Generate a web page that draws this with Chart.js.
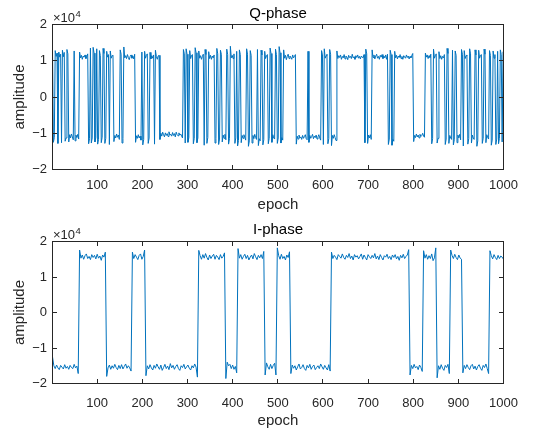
<!DOCTYPE html>
<html><head><meta charset="utf-8">
<script src="https://cdn.jsdelivr.net/npm/chart.js@4.4.0/dist/chart.umd.min.js"></script>
<style>
html,body{margin:0;padding:0;background:#fff;}
#wrap{position:relative;width:544px;height:430px;overflow:hidden;background:#fff;}
canvas{position:absolute;left:0;}
</style></head><body>
<div id="wrap">
<canvas id="cq" width="544" height="215" style="top:0px"></canvas>
<canvas id="ci" width="544" height="215" style="top:215px"></canvas>
</div>
<script>
// ---- data (amplitudes in hundreds, i.e. value*100 = amplitude) ----
const epochStart = 1;
const qStep = 2;   // Q-phase sampled every 2 epochs
const iStep = 3;   // I-phase sampled every 3 epochs
const xTicks = [100,200,300,400,500,600,700,800,900,1000];
const yTicks = [-2,-1,0,1,2];  // in units of 10^4
const titles = ['Q-phase','I-phase'];

const qAmpHundreds = [
132,
-125,-112,
128,112,121,
-128,
124,110,118,
-126,
129,111,123,
-122,-113,
131,119,
-124,-104,-113,-102,-110,-118,
127,
-121,-105,-112,-103,-116,
124,108,115,104,113,110,116,106,112,119,
-129,-115,
135,
-127,-113,
137,121,
-124,-112,
133,
-130,-117,
128,114,
-126,-111,
134,120,
-128,-114,
126,110,117,
-131,
127,107,114,115,
-123,-106,-113,-102,-111,-105,-117,
130,118,
-127,-115,
138,108,114,106,117,109,103,112,116,107,113,105,118,
-125,-107,-114,-104,-113,-108,-119,
124,
-132,-117,
126,107,115,119,
-128,-113,
123,105,114,107,116,
-130,
129,112,104,113,115,
-117,-100,-108,-97,-104,-110,-99,-106,-101,-109,-96,-105,-103,-108,-98,-106,-101,-110,-97,-104,-107,-99,-105,-102,-108,-113,
131,119,
-127,
133,118,
-125,-112,
128,106,115,117,
-129,-114,
136,122,
-126,-113,
127,107,114,104,112,118,
-133,
131,117,
-128,-112,
125,106,115,104,113,108,116,
-127,-114,
134,119,
-131,-116,
129,118,
-124,-105,-114,-103,-118,
132,117,
-130,-115,
140,108,115,106,119,
-128,-113,
126,
-135,-120,
130,117,
-126,-106,-114,-104,-112,-119,
133,118,
-136,-121,
128,115,
-127,-106,-115,-103,-112,-117,
131,
-134,-115,-121,
129,116,
-132,-118,
126,106,114,117,
-129,-114,
135,120,
-125,-104,-113,-116,
132,117,
-128,-113,
139,122,
-127,-112,-119,
130,107,115,103,112,118,106,113,109,104,116,108,112,117,
-130,-108,-116,-105,-113,-110,-117,-106,-114,-109,-104,-115,-118,
126,
-125,-106,-114,-109,-103,-115,-108,-112,-105,-116,-110,-104,-113,-119,
128,116,
-131,
133,107,114,118,
-129,-115,
131,118,
-134,-106,-114,-104,-112,-120,
127,106,114,109,116,104,112,108,117,105,113,110,103,115,109,112,106,118,108,111,104,114,109,116,107,112,105,113,110,108,117,
-126,
132,119,
-128,-105,-113,-104,-117,
130,109,116,105,113,118,107,112,104,115,110,117,106,113,108,116,104,118,
-131,-116,
129,117,
-133,-117,-122,
126,108,115,105,113,109,117,106,112,104,114,110,107,116,109,113,105,112,108,115,120,
-123,-106,-112,-102,-110,-105,-113,-103,-109,-106,-100,-108,-111,
121,110,116,106,114,109,118,
-129,-115,
132,107,114,119,
-127,-114,
125,106,114,104,112,108,117,
-131,-116,
134,120,
-128,-106,-113,-117,
129,
-132,-118,
127,115,
-126,-105,-113,-103,-118,
131,118,
-135,
128,106,114,116,
-130,-115,
133,119,
-127,-105,-113,-117,
130,116,
-136,-121,
129,107,115,117,
-128,-114,
132,118,
-126,-104,-112,-116,
128,115,
-133,-119,
127,107,117,
-131,-116,
126,
-129,-114,
130,117,
-124,
125
];

const iAmpHundreds = [
-125,-150,-158,-148,-156,-161,-149,-154,-159,-147,-157,-152,-160,-149,-155,-158,-146,-156,-151,-172,
176,153,162,150,160,165,152,158,149,163,155,161,151,164,153,159,147,162,156,170,
-180,-156,-148,-160,-150,-157,-146,-155,-161,-149,-158,-147,-159,-152,-145,-157,-150,-156,-165,
170,152,163,156,149,161,165,150,158,176,
-178,-150,-159,-147,-156,-162,-149,-157,-145,-153,-160,-148,-163,-155,-146,-158,-151,-161,-144,-156,-149,-160,-152,-147,-158,-163,-150,-155,-146,-159,-153,-148,-157,-162,-150,-156,-145,-154,-182,
175,160,150,163,153,166,155,148,162,152,159,164,150,161,156,149,163,153,158,168,
-186,-140,-150,-146,-158,-148,-160,-152,-170,
180,153,163,150,158,164,152,161,148,156,162,151,166,157,149,161,154,163,152,172,
-176,-142,-153,-160,-146,-158,-149,-143,-176,
182,160,150,164,152,158,148,162,155,171,
-172,-148,-157,-150,-162,-153,-145,-159,-155,-147,-158,-163,-149,-156,-146,-160,-152,-148,-161,-155,-150,-158,-145,-153,-160,-149,-156,-162,-147,-165,
170,152,161,156,149,163,158,153,165,155,150,161,155,166,152,159,148,163,156,160,151,158,165,150,162,155,148,163,157,152,161,154,166,151,159,149,163,155,148,160,156,164,152,158,149,162,155,163,151,158,147,161,154,164,152,158,162,177,
-176,-149,-158,-146,-156,-152,-161,-148,-155,-166,
174,153,163,150,160,152,165,146,154,182,
-184,-150,-160,-147,-157,-163,-149,-155,-146,-172,
176,161,152,164,155,149,162,153,150,
-170,-149,-158,-147,-155,-161,-150,-146,-159,-151,-162,-152,-147,-157,-163,-149,-155,-145,-158,-172,
174,160,151,163,155,149,161,152,159,156,150
];

// ---- rendering ----
const FONT = '"Liberation Sans", Arial, Helvetica, sans-serif';
Chart.defaults.font.family = FONT;
Chart.defaults.color = '#262626';

function toPoints(arr, step) {
  return arr.map((v, k) => ({ x: epochStart + k * step, y: v * 100 }));
}

const axesPlugin = {
  id: 'matlabAxes',
  afterDraw(chart) {
    const { ctx, chartArea: a, scales: { x, y } } = chart;
    ctx.save();
    ctx.strokeStyle = '#262626';
    ctx.lineWidth = 1;
    ctx.strokeRect(a.left, a.top, a.right - a.left, a.bottom - a.top);
    const tl = 4.5;
    ctx.beginPath();
    xTicks.forEach(v => {
      const px = Math.round(x.getPixelForValue(v) - 0.5) + 0.5;
      ctx.moveTo(px, a.bottom); ctx.lineTo(px, a.bottom - tl);
      ctx.moveTo(px, a.top); ctx.lineTo(px, a.top + tl);
    });
    yTicks.forEach(v => {
      const py = Math.round(y.getPixelForValue(v * 1e4) - 0.5) + 0.5;
      ctx.moveTo(a.left, py); ctx.lineTo(a.left + tl, py);
      ctx.moveTo(a.right, py); ctx.lineTo(a.right - tl, py);
    });
    ctx.stroke();
    // exponent label
    ctx.fillStyle = '#262626';
    ctx.textAlign = 'left';
    ctx.textBaseline = 'alphabetic';
    ctx.font = '13px ' + FONT;
    const bx = a.left + 0.5, by = a.top - 2.5;
    ctx.fillText('×10', bx, by);
    const w = ctx.measureText('×10').width;
    ctx.font = '9.5px ' + FONT;
    ctx.fillText('4', bx + w + 0.5, by - 5.5);
    ctx.restore();
  }
};

function fmtY(v) {
  const n = v / 1e4;
  return n < 0 ? '\u2212' + Math.abs(n) : String(n);
}

function makeChart(id, pts, title, titlePad, xHeight, xPad, xTitlePad) {
  return new Chart(document.getElementById(id), {
    type: 'line',
    data: { datasets: [{
      data: pts, borderColor: '#0072BD', borderWidth: 1,
      pointRadius: 0, tension: 0, fill: false
    }]},
    options: {
      responsive: false, animation: false, parsing: false,
      layout: { padding: { left: 0, right: 40.5, top: 0, bottom: 0 } },
      plugins: {
        legend: { display: false }, tooltip: { enabled: false },
        title: { display: true, text: title, fullSize: false, color: '#000',
                 font: { size: 15, weight: 'normal' }, padding: titlePad }
      },
      scales: {
        x: {
          type: 'linear', min: 1, max: 1000,
          grid: { display: false, drawTicks: false }, border: { display: false },
          afterBuildTicks: s => { s.ticks = xTicks.map(v => ({ value: v })); },
          afterFit: s => { s.height = xHeight; },
          ticks: { font: { size: 13 }, padding: xPad, maxRotation: 0, autoSkip: false, color: '#262626',
                   callback: v => String(v) },
          title: { display: true, text: 'epoch', font: { size: 15 }, color: '#262626', padding: { top: 0, bottom: xTitlePad } }
        },
        y: {
          type: 'linear', min: -20000, max: 20000,
          grid: { display: false, drawTicks: false }, border: { display: false },
          afterBuildTicks: s => { s.ticks = yTicks.map(v => ({ value: v * 1e4 })); },
          afterFit: s => { s.width = 52.5; },
          ticks: { font: { size: 13 }, padding: 5.5, color: '#262626', callback: fmtY },
          title: { display: true, text: 'amplitude', font: { size: 15 }, color: '#262626', padding: { top: 10.5, bottom: 0 } }
        }
      }
    },
    plugins: [axesPlugin]
  });
}

makeChart('cq', toPoints(qAmpHundreds, qStep), titles[0], { top: 4.5, bottom: 2 }, 45.5, 8.5, 1.5);
makeChart('ci', toPoints(iAmpHundreds, iStep), titles[1], { top: 5.5, bottom: 3 }, 46.5, 12, 0);
</script>
</body></html>
